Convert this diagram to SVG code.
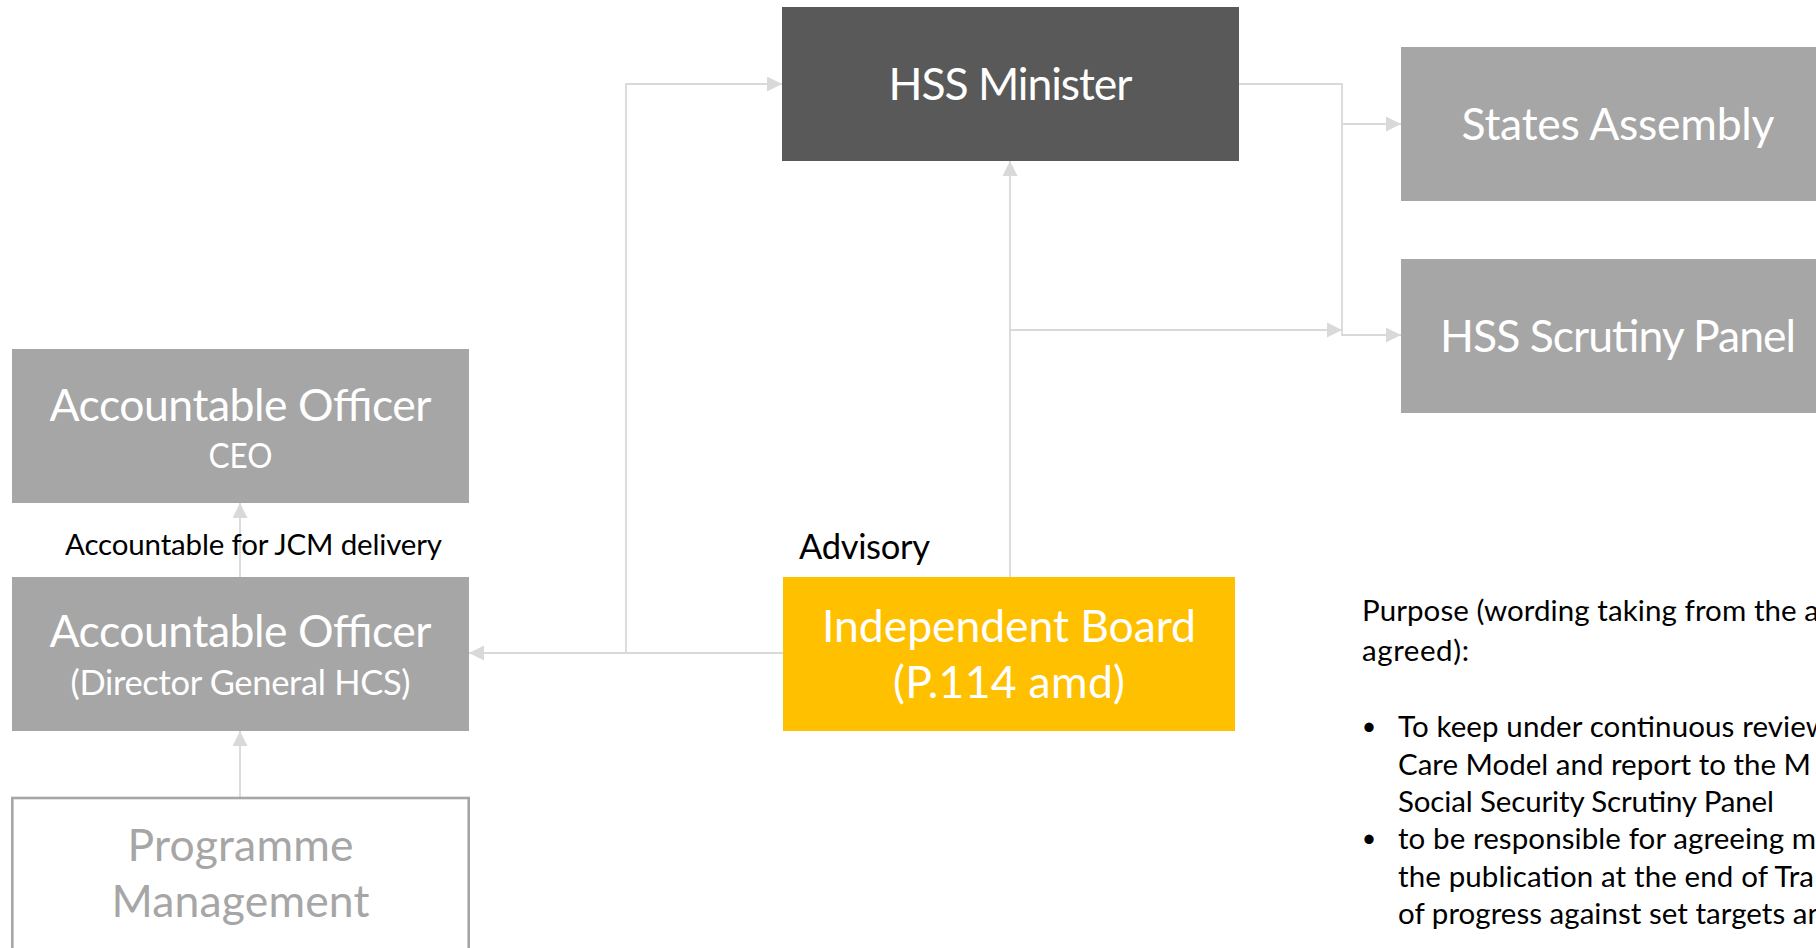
<svg xmlns="http://www.w3.org/2000/svg" width="1816" height="948" viewBox="0 0 1816 948">
<defs>
<style>
.box-dark{fill:#595959}
.box-grey{fill:#a6a6a6}
.box-gold{fill:#ffc000}
.box-outline{fill:#ffffff;stroke:#a6a6a6;stroke-width:2.6}
text{font-family:Lato,"Open Sans","Liberation Sans",sans-serif}
.t-main{font-size:44.5px;fill:#ffffff;text-anchor:middle}
.t-sub{font-size:34.5px;fill:#ffffff;text-anchor:middle}
.t-pm{font-size:44.5px;fill:#a6a6a6;text-anchor:middle}
.lbl{font-size:29.5px;fill:#000000}
.bul{font-size:25px;fill:#000000;text-anchor:middle}
.lbl-adv{font-size:34.5px;fill:#000000}
.conn{fill:none;stroke:#d9d9d9;stroke-width:1.8}
</style>
<marker id="arr" markerUnits="userSpaceOnUse" markerWidth="16" markerHeight="16" refX="15" refY="7.5" orient="auto">
<path d="M0,0 L15,7.5 L0,15 z" fill="#d9d9d9"/>
</marker>
</defs>
<rect width="1816" height="948" fill="#ffffff"/>

<g id="connectors">
<path class="conn" d="M783,653 H469" marker-end="url(#arr)"/>
<path class="conn" d="M626,653 V84 H782" marker-end="url(#arr)"/>
<path class="conn" d="M1010,577 V161" marker-end="url(#arr)"/>
<path class="conn" d="M1010,330 H1342" marker-end="url(#arr)"/>
<path class="conn" d="M1239,84 H1342 V335 H1401" marker-end="url(#arr)"/>
<path class="conn" d="M1342,124 H1401" marker-end="url(#arr)"/>
<path class="conn" d="M240,577 V503" marker-end="url(#arr)"/>
<path class="conn" d="M240,798 V731" marker-end="url(#arr)"/>
</g>

<g id="hss-minister">
<rect class="box-dark" x="782" y="7" width="457" height="154"/>
<text class="t-main" x="1010.5" y="100" textLength="244">HSS Minister</text>
</g>

<g id="states-assembly">
<rect class="box-grey" x="1401" y="47" width="434" height="154"/>
<text class="t-main" x="1618" y="139.5" textLength="313">States Assembly</text>
</g>

<g id="hss-scrutiny-panel">
<rect class="box-grey" x="1401" y="259" width="434" height="154"/>
<text class="t-main" x="1618" y="352" textLength="356">HSS Scrutiny Panel</text>
</g>

<g id="accountable-officer-ceo">
<rect class="box-grey" x="12" y="349" width="457" height="154"/>
<text class="t-main" x="240.5" y="421" textLength="382">Accountable Officer</text>
<text class="t-sub" x="240.5" y="468" textLength="64" lengthAdjust="spacingAndGlyphs">CEO</text>
</g>

<g id="accountable-officer-dg">
<rect class="box-grey" x="12" y="577" width="457" height="154"/>
<text class="t-main" x="240.5" y="647" textLength="382">Accountable Officer</text>
<text class="t-sub" x="240.5" y="695" textLength="340">(Director General HCS)</text>
</g>

<g id="programme-management">
<rect class="box-outline" x="12.3" y="798" width="456.4" height="160"/>
<text class="t-pm" x="240.5" y="861" textLength="226">Programme</text>
<text class="t-pm" x="240.5" y="917" textLength="258">Management</text>
</g>

<g id="independent-board">
<rect class="box-gold" x="783" y="577" width="452" height="154"/>
<text class="t-main" x="1009" y="642" textLength="374">Independent Board</text>
<text class="t-main" x="1009" y="698" textLength="232">(P.114 amd)</text>
</g>

<g id="label-accountable">
<text class="lbl" x="65" y="555" textLength="377">Accountable for JCM delivery</text>
</g>

<g id="label-advisory">
<text class="lbl-adv" x="799" y="559" textLength="131">Advisory</text>
</g>

<g id="purpose-text">
<text class="lbl" x="1362" y="621" textLength="457">Purpose (wording taking from the a</text>
<text class="lbl" x="1362" y="661" textLength="107">agreed):</text>
<text class="bul" x="1369" y="735">•</text>
<text class="lbl" x="1398" y="737" textLength="431">To keep under continuous review</text>
<text class="lbl" x="1398" y="774.5" textLength="413">Care Model and report to the M</text>
<text class="lbl" x="1398" y="812" textLength="376">Social Security Scrutiny Panel</text>
<text class="bul" x="1369" y="847">•</text>
<text class="lbl" x="1398" y="849" textLength="418">to be responsible for agreeing m</text>
<text class="lbl" x="1398" y="886.5" textLength="416">the publication at the end of Tra</text>
<text class="lbl" x="1398" y="924" textLength="426">of progress against set targets an</text>
</g>
</svg>
